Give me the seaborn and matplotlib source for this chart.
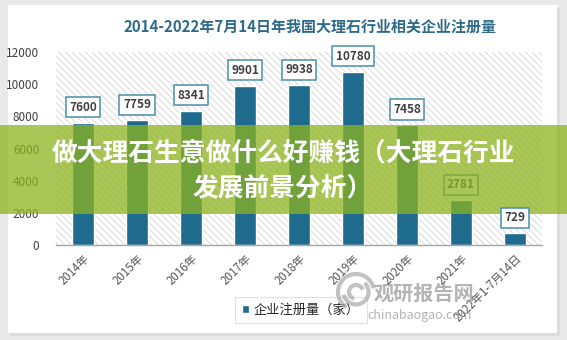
import matplotlib
matplotlib.use("Agg")
import matplotlib.pyplot as plt
import seaborn as sns
import pandas as pd
from matplotlib.patches import Rectangle, Arc

categories = ["2014年", "2015年", "2016年", "2017年", "2018年", "2019年", "2020年", "2021年", "2022年1-7月14日"]
values = [7600, 7759, 8341, 9901, 9938, 10780, 7458, 2781, 729]
yticks = [0, 2000, 4000, 6000, 8000, 10000, 12000]
title = "2014-2022年7月14日年我国大理石行业相关企业注册量"
series_name = "企业注册量（家）"
banner_lines = ["做大理石生意做什么好赚钱（大理石行业", "发展前景分析）"]

sns.set_theme(style="white")
plt.rcParams["font.family"] = ["Noto Sans CJK SC", "DejaVu Sans"]
plt.rcParams["hatch.linewidth"] = 0.6
plt.rcParams["hatch.color"] = "#d4d4d4"

W, H = 567, 340
fig = plt.figure(figsize=(W / 100, H / 100), dpi=100)
fig.patch.set_facecolor("#e9e9e9")

# card with shadow
fig.patches.append(Rectangle((10 / W, 1 - 336 / H), 550 / W, 328 / H, transform=fig.transFigure,
                             facecolor="#dcdcdc", edgecolor="none", zorder=-2))
fig.patches.append(Rectangle((8 / W, 1 - 333 / H), 549 / W, 328 / H, transform=fig.transFigure,
                             facecolor="white", edgecolor="none", zorder=-1))

pos = [56 / W, 1 - 245 / H, (542 - 56) / W, (245 - 52) / H]
ax = fig.add_axes(pos)
ax.set_facecolor("none")
ax.add_patch(Rectangle((0, 0), 1, 1, transform=ax.transAxes, facecolor="white",
                       edgecolor="#d4d4d4", hatch="\\\\\\\\\\", lw=0, zorder=0))

df = pd.DataFrame({"cat": categories, "val": values})
sns.barplot(data=df, x="cat", y="val", color="#1f6b8e", width=0.42, ax=ax,
            saturation=1, zorder=3)

ax.set_xlim(-0.5, len(categories) - 0.5)
ax.set_ylim(0, 12000)
ax.set_yticks(yticks)
ax.set_yticklabels([str(v) for v in yticks], fontsize=8.5, color="#404040")
ax.tick_params(axis="y", length=0, pad=12)
ax.tick_params(axis="x", length=0, pad=5)
ax.set_xticks(range(len(categories)))
ax.set_xticklabels(categories, rotation=45, ha="right", rotation_mode="anchor",
                   fontsize=8.3, color="#595959")
ax.set_xlabel("")
ax.set_ylabel("")
for s in ["left", "top", "right"]:
    ax.spines[s].set_visible(False)
ax.spines["bottom"].set_color("#a6a6a6")
ax.spines["bottom"].set_linewidth(1.0)
ax.spines["bottom"].set_zorder(4)

# overlay axes (same scales) for the label that sits above the banner
ax_top = fig.add_axes(pos, zorder=12)
ax_top.set_xlim(ax.get_xlim())
ax_top.set_ylim(ax.get_ylim())
ax_top.axis("off")

box = dict(boxstyle="square,pad=0.3", facecolor="white", edgecolor="#4a8ea8", lw=1.1)
for i, v in enumerate(values):
    target = ax_top if i == len(values) - 1 else ax
    target.annotate(str(v), (i, v), xytext=(0, 6.5), textcoords="offset points",
                    ha="center", va="bottom", fontsize=8.5, fontweight="bold", color="#404040",
                    bbox=box, zorder=5)

fig.text(310 / W, 1 - 27 / H, title, ha="center", va="center", fontsize=10.8,
         fontweight="bold", color="#2e6b8a")

leg = fig.legend(handles=[Rectangle((0, 0), 1, 1, facecolor="#1f6b8e")], labels=[series_name],
                 loc="center", bbox_to_anchor=(301 / W, 1 - 310 / H), fontsize=9.5,
                 frameon=True, fancybox=False, edgecolor="#d9d9d9", handlelength=0.5,
                 handleheight=0.5, handletextpad=0.4, borderpad=0.5)
leg.get_frame().set_linewidth(0.8)

# watermark
for r, th1, th2 in [(36, 20, 250), (25, 200, 420), (14, 30, 260)]:
    fig.patches.append(Arc((356 / W, 1 - 292 / H), r / W, r / H, theta1=th1, theta2=th2,
                           transform=fig.transFigure, color="#a8a8a8", lw=3, alpha=0.7, zorder=6))
fig.text(424 / W, 1 - 293 / H, "观研报告网", ha="center", va="center", fontsize=14.5,
         fontweight="bold", color="#9a9a9a", alpha=0.75, zorder=6)
fig.text(420 / W, 1 - 316 / H, "chinabaogao.com", ha="center", va="center", fontsize=9,
         color="#9a9a9a", alpha=0.75, zorder=6)

# banner overlay
fig.patches.append(Rectangle((0, 1 - 214 / H), 1, 89 / H, transform=fig.transFigure,
                             facecolor="#8cb41e", edgecolor="none", alpha=0.75, zorder=10))
fig.text(283 / W, 1 - 153 / H, banner_lines[0], ha="center", va="center", fontsize=18.5,
         fontweight="bold", color="white", zorder=11)
fig.text(283 / W, 1 - 188 / H, banner_lines[1], ha="center", va="center", fontsize=18.5,
         fontweight="bold", color="white", zorder=11)

fig.savefig("out.png", dpi=100, facecolor=fig.get_facecolor())
